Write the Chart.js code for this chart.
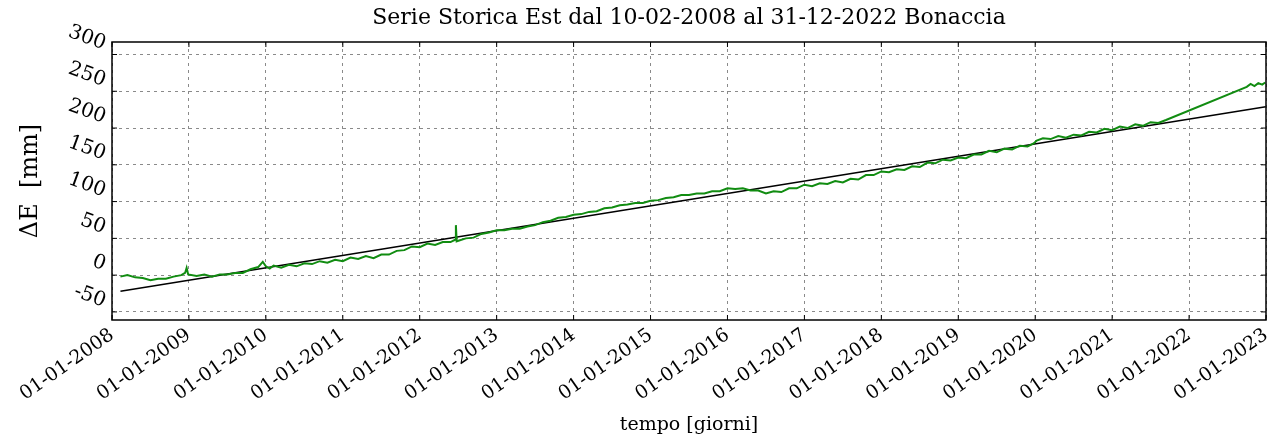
<!DOCTYPE html>
<html>
<head>
<meta charset="utf-8">
<script src="https://cdn.jsdelivr.net/npm/chart.js@4.4.0/dist/chart.umd.min.js"></script>
<style>
  body { margin: 0; background: #fff; }
</style>
</head>
<body>
<canvas id="serie-chart" width="1270" height="441"></canvas>
<script>
////// Serie storica Est - Bonaccia

// tempo in anni decimali, spostamento Est in mm
let tempo = [
  2008.11, 2008.2, 2008.3, 2008.4, 2008.5, 2008.6, 2008.7, 2008.8, 2008.9, 2008.95, 2008.97, 2008.99,
  2009.1, 2009.2, 2009.3, 2009.4, 2009.5, 2009.6, 2009.7, 2009.8, 2009.9, 2009.96, 2010.0, 2010.05,
  2010.1, 2010.2, 2010.3, 2010.4, 2010.5, 2010.6, 2010.7, 2010.8, 2010.9, 2011.0,
  2011.1, 2011.2, 2011.3, 2011.4, 2011.5, 2011.6, 2011.7, 2011.8, 2011.9, 2012.0,
  2012.1, 2012.2, 2012.3, 2012.4, 2012.46, 2012.47, 2012.48, 2012.6, 2012.7, 2012.8, 2012.9, 2013.0,
  2013.1, 2013.2, 2013.3, 2013.4, 2013.5, 2013.6, 2013.7, 2013.8, 2013.9, 2014.0,
  2014.1, 2014.2, 2014.3, 2014.4, 2014.5, 2014.6, 2014.7, 2014.8, 2014.9, 2015.0,
  2015.1, 2015.2, 2015.3, 2015.4, 2015.5, 2015.6, 2015.7, 2015.8, 2015.9, 2016.0,
  2016.1, 2016.2, 2016.3, 2016.4, 2016.5, 2016.6, 2016.7, 2016.8, 2016.9, 2017.0,
  2017.1, 2017.2, 2017.3, 2017.4, 2017.5, 2017.6, 2017.7, 2017.8, 2017.9, 2018.0,
  2018.1, 2018.2, 2018.3, 2018.4, 2018.5, 2018.6, 2018.7, 2018.8, 2018.9, 2019.0,
  2019.1, 2019.2, 2019.3, 2019.4, 2019.5, 2019.6, 2019.7, 2019.8, 2019.9, 2019.98,
  2020.02, 2020.1, 2020.2, 2020.3, 2020.4, 2020.5, 2020.6, 2020.7, 2020.8, 2020.9, 2021.0,
  2021.1, 2021.2, 2021.3, 2021.4, 2021.5, 2021.6, 2021.7,
  2022.75, 2022.8, 2022.85, 2022.9, 2022.95, 2022.99
];
let deltaE = [
  -2, 0, -3, -4, -7, -5, -5, -2, 0, 3, 10, 1,
  -1, 1, -2, 1, 1, 3, 3, 8, 11, 18, 12, 9,
  13, 10, 14, 12, 16, 15, 19, 17, 21, 19,
  24, 22, 26, 23, 28, 28, 33, 34, 39, 38,
  43, 41, 45, 45, 48, 68, 46, 50, 51, 56, 58, 61,
  61, 63, 63, 66, 68, 72, 74, 78, 79, 82,
  83, 86, 87, 91, 92, 95, 96, 98, 98, 101,
  102, 105, 106, 109, 109, 111, 111, 114, 114, 118,
  117, 118, 115, 115, 111, 114, 113, 118, 118, 123,
  121, 125, 124, 128, 126, 131, 130, 136, 136, 141,
  140, 144, 143, 148, 147, 153, 152, 157, 156, 160,
  159, 164, 164, 169, 167, 172, 171, 176, 175, 179,
  183, 186, 185, 189, 187, 191, 190, 195, 194, 199, 197,
  202, 200, 205, 203, 208, 207, 211,
  256, 260, 257, 261, 259, 262
];

// retta di regressione (inizio e fine serie)
let trendTempo = [2008.11, 2022.997];
let trendE = [-21.8, 229];

// tick
let xTickValues = [2008, 2009, 2010, 2011, 2012, 2013, 2014, 2015, 2016, 2017, 2018, 2019, 2020, 2021, 2022, 2023];
let xTickLabels = ['01-01-2008', '01-01-2009', '01-01-2010', '01-01-2011', '01-01-2012', '01-01-2013',
  '01-01-2014', '01-01-2015', '01-01-2016', '01-01-2017', '01-01-2018', '01-01-2019',
  '01-01-2020', '01-01-2021', '01-01-2022', '01-01-2023'];
let yTickValues = [-50, 0, 50, 100, 150, 200, 250, 300];

const serif = "'DejaVu Serif', 'Liberation Serif', serif";

// cornice nera e tacche interne come in matplotlib
const frame = {
    id: 'frame',
    afterDraw: function (chart) {
        let ctx = chart.ctx;
        let a = chart.chartArea;
        let sx = chart.scales.x;
        let sy = chart.scales.y;
        ctx.save();
        ctx.strokeStyle = '#000';
        ctx.lineWidth = 1;
        ctx.beginPath();
        xTickValues.forEach(function (v) {
            let px = sx.getPixelForValue(v);
            ctx.moveTo(px, a.bottom); ctx.lineTo(px, a.bottom - 5);
            ctx.moveTo(px, a.top); ctx.lineTo(px, a.top + 5);
        });
        yTickValues.forEach(function (v) {
            let py = sy.getPixelForValue(v);
            ctx.moveTo(a.left, py); ctx.lineTo(a.left + 5, py);
            ctx.moveTo(a.right, py); ctx.lineTo(a.right - 5, py);
        });
        ctx.stroke();
        ctx.lineWidth = 1.5;
        ctx.strokeRect(a.left, a.top, a.right - a.left, a.bottom - a.top);
        ctx.restore();
    }
};

let serie_canvas = document.getElementById('serie-chart').getContext('2d');

let serie_chart = new Chart(serie_canvas, {
    type: 'line',
    data: {
        datasets: [
            {
                data: tempo.map((t, i) => ({x: t, y: deltaE[i]})),
                xAxisID: 'x',
                yAxisID: 'y',
                borderColor: '#118c11',
                borderWidth: 2,
                pointRadius: 0,
                tension: 0
            },
            {
                data: trendTempo.map((t, i) => ({x: t, y: trendE[i]})),
                xAxisID: 'x',
                yAxisID: 'y',
                borderColor: '#000',
                borderWidth: 1.5,
                pointRadius: 0
            }
        ]
    },
    options: {
        responsive: false,
        animation: false,
        layout: {padding: {left: 0, right: 4, top: 0, bottom: 0}},
        plugins: {
            legend: {display: false},
            tooltip: {enabled: false}
        },
        scales: {
            x: {
                type: 'linear',
                min: 2008,
                max: 2023,
                afterBuildTicks: function (scale) {
                    scale.ticks = xTickValues.map(v => ({value: v}));
                },
                afterFit: function (scale) {
                    scale.height = 121;
                    scale.paddingRight = 0;
                },
                ticks: {
                    autoSkip: false,
                    minRotation: 35,
                    maxRotation: 35,
                    padding: 4,
                    color: '#000',
                    font: {family: serif, size: 19},
                    callback: (v, i) => xTickLabels[i]
                },
                grid: {color: '#8a8a8a', lineWidth: 1, drawTicks: false},
                border: {display: false, dash: [3, 4]},
                title: {
                    display: true,
                    text: 'tempo [giorni]',
                    color: '#000',
                    font: {family: serif, size: 19},
                    padding: {top: 0, bottom: 5}
                }
            },
            y: {
                min: -61,
                max: 317,
                afterBuildTicks: function (scale) {
                    scale.ticks = yTickValues.map(v => ({value: v}));
                },
                afterFit: function (scale) { scale.width = 112; },
                ticks: {
                    minRotation: -20,
                    padding: 7,
                    labelOffset: -10,
                    color: '#000',
                    font: {family: serif, size: 20}
                },
                grid: {color: '#8a8a8a', lineWidth: 1, drawTicks: false},
                border: {display: false, dash: [3, 4]},
                title: {
                    display: true,
                    text: 'ΔE  [mm]',
                    color: '#000',
                    font: {family: serif, size: 24},
                    padding: {top: 16, bottom: 0}
                }
            },
            // asse superiore usato solo per il titolo, centrato sul grafico
            titolo: {
                type: 'linear',
                position: 'top',
                afterFit: function (scale) { scale.height = 42; },
                ticks: {display: false},
                grid: {display: false, drawTicks: false},
                border: {display: false},
                title: {
                    display: true,
                    text: 'Serie Storica Est dal 10-02-2008 al 31-12-2022 Bonaccia',
                    color: '#000',
                    font: {family: serif, size: 22},
                    padding: {top: 5, bottom: 0}
                }
            }
        }
    },
    plugins: [frame]
});
</script>
</body>
</html>
